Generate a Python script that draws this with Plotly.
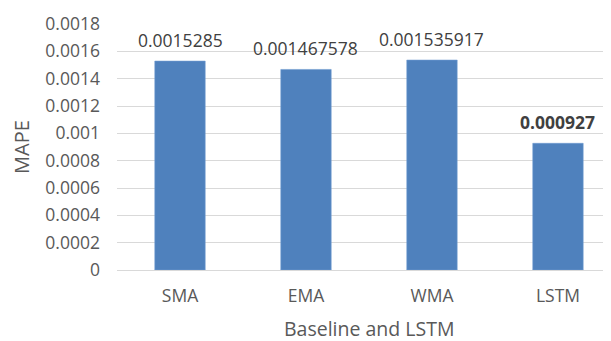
import plotly.graph_objects as go

categories = ["SMA", "EMA", "WMA", "LSTM"]
mape_values = [0.0015285, 0.001467578, 0.001535917, 0.000927]
value_labels = ["0.0015285", "0.001467578", "0.001535917", "<b>0.000927</b>"]
y_tick_vals = [0, 0.0002, 0.0004, 0.0006, 0.0008, 0.001, 0.0012, 0.0014, 0.0016, 0.0018]
y_tick_text = ["0", "0.0002", "0.0004", "0.0006", "0.0008", "0.001", "0.0012", "0.0014", "0.0016", "0.0018"]

FONT = "Open Sans"
GRAY = "#595959"

x_pos = list(range(len(categories)))

fig = go.Figure(go.Bar(
    x=x_pos,
    y=mape_values,
    width=0.4,
    marker=dict(color="#4F81BD", line=dict(color="#6F9BD0", width=0.6)),
))

annotations = [dict(
    text=lbl, xref="x", x=xi, yref="y", y=v, yshift=21,
    showarrow=False, yanchor="middle",
    font=dict(family=FONT, size=17.5, color="#404040"),
) for xi, v, lbl in zip(x_pos, mape_values, value_labels)]

annotations.append(dict(
    text="Baseline and LSTM", xref="x", x=1.5, yref="paper", y=0,
    yshift=-58, showarrow=False, yanchor="middle",
    font=dict(family=FONT, size=19.5, color=GRAY),
))

# page body has an 8px default margin; figure sized to fit the 611x341 window
fig.update_layout(
    width=603, height=333,
    margin=dict(l=109, r=3, t=13, b=71),
    paper_bgcolor="white", plot_bgcolor="white",
    showlegend=False,
    font=dict(family=FONT, color=GRAY),
    xaxis=dict(
        range=[-0.5, 3.397],
        tickvals=x_pos,
        ticktext=categories,
        tickfont=dict(family=FONT, size=17.5, color=GRAY),
        showgrid=False, zeroline=False,
        showline=False,
        ticks="", ticklabelstandoff=13,
    ),
    yaxis=dict(
        range=[0, 0.0018],
        tickvals=y_tick_vals,
        ticktext=y_tick_text,
        tickfont=dict(family=FONT, size=17.5, color=GRAY),
        showgrid=True, gridcolor="#D9D9D9", gridwidth=1.3,
        zeroline=True, zerolinecolor="#D9D9D9", zerolinewidth=1.3,
        ticks="", ticklabelstandoff=16,
        title=dict(text="MAPE", font=dict(family=FONT, size=20, color=GRAY), standoff=12),
    ),
    annotations=annotations,
    bargap=0.6,
)

fig.write_html("out.html")
